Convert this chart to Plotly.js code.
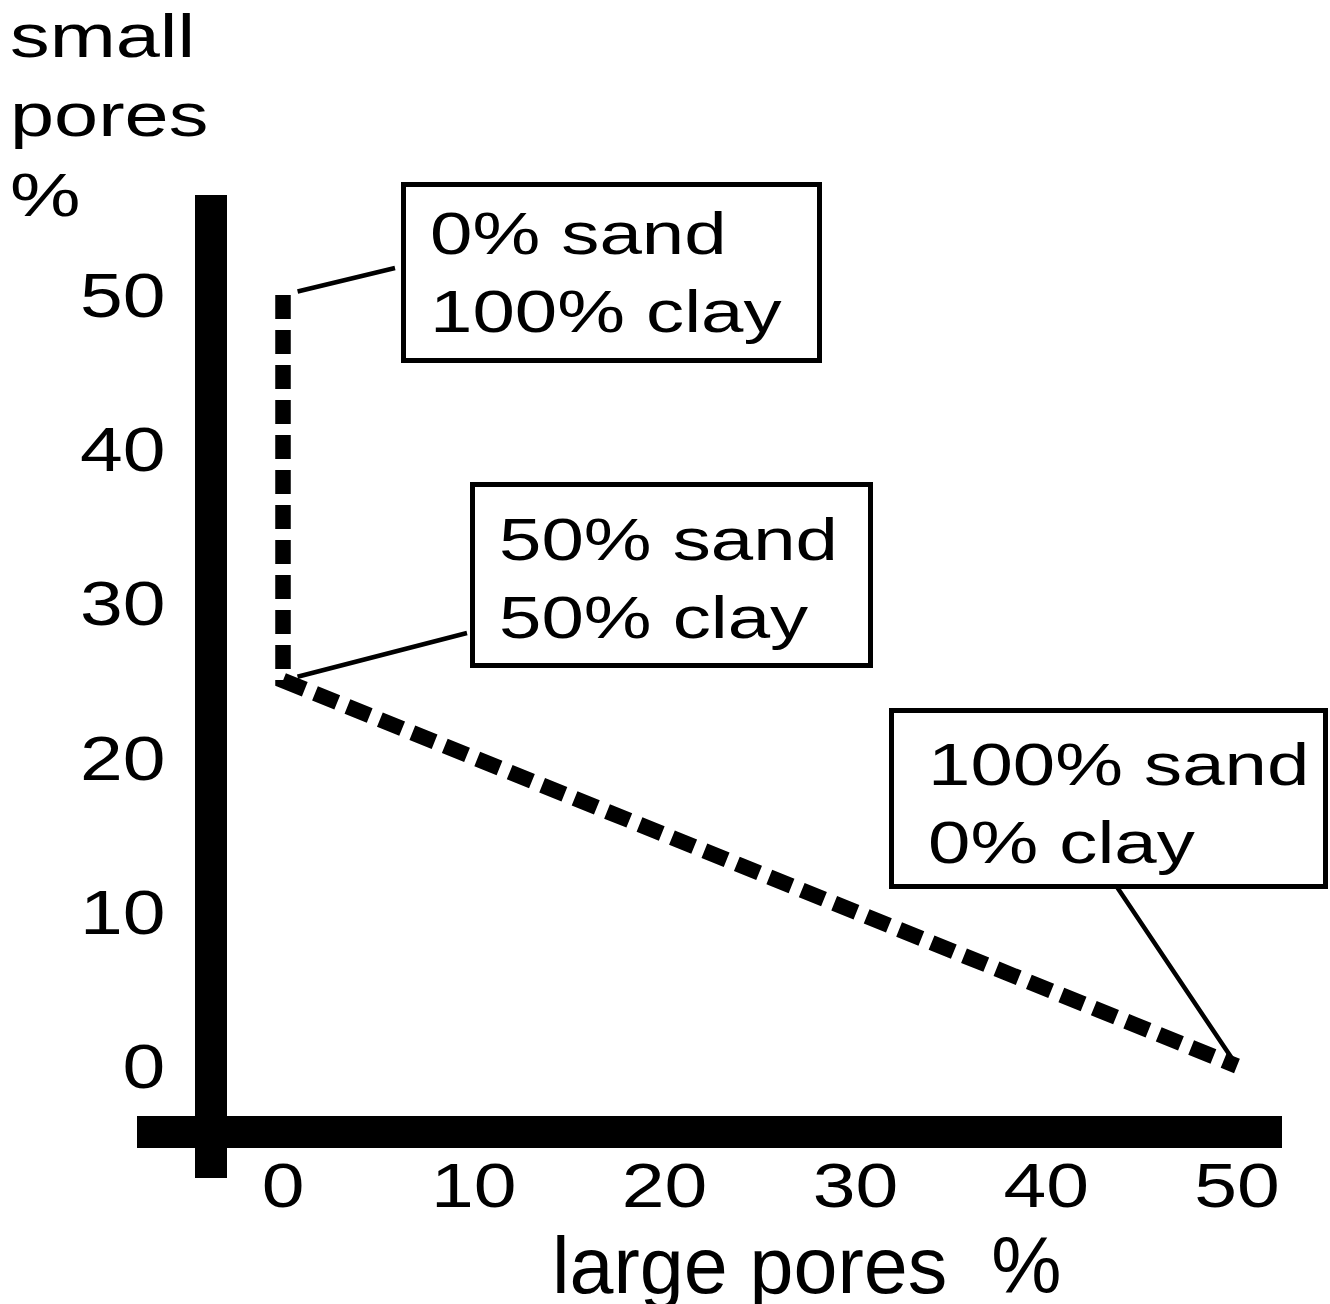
<!DOCTYPE html>
<html>
<head>
<meta charset="utf-8">
<script src="https://cdn.plot.ly/plotly-3.0.1.min.js"></script>
<style>
  html, body { margin: 0; padding: 0; background: #ffffff; }
  #chart { width: 1330px; height: 1304px; }
</style>
</head>
<body>
<div id="chart"></div>
<script>
// ---- data ----
const largePores = [0, 0, 50];          // x: large pores %
const smallPores = [50, 25, 0];         // y: small pores %
const tickValues = [0, 10, 20, 30, 40, 50];
const tickLabels = ['0', '10', '20', '30', '40', '50'];
const calloutText = ['0% sand<br>100% clay', '50% sand<br>50% clay', '100% sand<br>0% clay'];
const xTitle = 'large pores\u00a0 %';
const yTitle = 'small<br>pores<br>%';

// ---- layout helpers (pixel -> paper) ----
const W = 1330, H = 1304;
const M = { l: 137, r: 48, t: 195, b: 126 };
const PW = W - M.l - M.r, PH = H - M.t - M.b;
const px = v => (v - M.l) / PW;
const py = v => (H - M.b - v) / PH;

const FONT = 'Liberation Sans, Arial, Helvetica, sans-serif';

// callout frames (outer pixel edges) and text anchors
const boxes = [[401, 182, 822, 363], [470, 482, 873, 668], [889, 708, 1328, 889]];
const textAnchor = [[427.5, 273], [497, 578], [925.5, 803]];
const leaderTail = [[112, -27], [184, -47.5], [-120, -179]];
const leaderStandoff = [15, 15, 8];

const BW = 5;
const shapes = boxes.map(b => ({
  type: 'rect', xref: 'paper', yref: 'paper',
  x0: px(b[0] + BW / 2), x1: px(b[2] - BW / 2),
  y0: py(b[1] + BW / 2), y1: py(b[3] - BW / 2),
  line: { color: '#000', width: BW }, fillcolor: 'rgba(255,255,255,0)', layer: 'above'
}));

const annotations = [
  { // x title (index 0)
    text: xTitle, xref: 'paper', yref: 'paper', x: px(806), y: py(1219),
    xanchor: 'center', yanchor: 'top', showarrow: false,
    font: { family: FONT, size: 79, color: '#000' }
  },
  { // y title (index 1)
    text: yTitle, xref: 'paper', yref: 'paper', x: px(8), y: py(0),
    xanchor: 'left', yanchor: 'top', align: 'left', showarrow: false,
    font: { family: FONT, size: 61, color: '#000' }
  }
];
calloutText.forEach((t, i) => {
  annotations.push({
    text: t, xref: 'paper', yref: 'paper', x: px(textAnchor[i][0]), y: py(textAnchor[i][1]),
    xanchor: 'left', yanchor: 'middle', align: 'left', showarrow: false,
    font: { family: FONT, size: 60, color: '#000' }
  });
});
calloutText.forEach((t, i) => {
  annotations.push({
    text: ' ', x: largePores[i], y: smallPores[i], xref: 'x', yref: 'y',
    ax: leaderTail[i][0], ay: leaderTail[i][1],
    showarrow: true, arrowhead: 0, arrowwidth: 4.5, arrowcolor: '#000',
    standoff: leaderStandoff[i], font: { size: 1 }, borderpad: 0, borderwidth: 0
  });
});

const trace = {
  x: largePores, y: smallPores, type: 'scatter', mode: 'lines',
  line: { color: '#000', width: 15.5, dash: '24px,11px' },
  hoverinfo: 'skip', cliponaxis: false, showlegend: false
};

const layout = {
  width: W, height: H,
  margin: M,
  paper_bgcolor: '#fff', plot_bgcolor: '#fff',
  showlegend: false,
  xaxis: {
    range: [-7.652, 52.36], anchor: 'free', position: py(1132),
    showline: true, linewidth: 32, linecolor: '#000',
    showgrid: false, zeroline: false, ticks: '',
    tickmode: 'array', tickvals: tickValues, ticktext: tickLabels,
    tickfont: { family: FONT, size: 63, color: '#000' },
    ticklabelstandoff: -17, fixedrange: true
  },
  yaxis: {
    range: [-7.263, 56.485], anchor: 'free', position: px(211),
    showline: true, linewidth: 32, linecolor: '#000',
    showgrid: false, zeroline: false, ticks: '',
    tickmode: 'array', tickvals: tickValues, ticktext: tickLabels,
    tickfont: { family: FONT, size: 63, color: '#000' },
    ticklabelstandoff: 17, fixedrange: true
  },
  shapes: shapes,
  annotations: annotations
};

// widen glyphs horizontally (the reference lettering is an expanded sans)
function stretchText(el, f) {
  const n = el.getComputedTextLength();
  if (n > 0) {
    el.setAttribute('textLength', (n * f).toFixed(2));
    el.setAttribute('lengthAdjust', 'spacingAndGlyphs');
  }
}
function applyStretch(textEl, f) {
  const lines = textEl.querySelectorAll('tspan.line');
  if (lines.length) lines.forEach(t => stretchText(t, f));
  else stretchText(textEl, f);
}

Plotly.newPlot('chart', [trace], layout, { displayModeBar: false, staticPlot: true }).then(gd => {
  gd.querySelectorAll('.xtick text, .ytick text').forEach(t => applyStretch(t, 1.22));
  gd.querySelectorAll('g.annotation').forEach(g => {
    const idx = +g.getAttribute('data-index');
    const t = g.querySelector('.annotation-text');
    if (!t || idx === 0 || idx > 4) return;
    applyStretch(t, idx === 1 ? 1.3 : 1.27);
  });
});
</script>
</body>
</html>
